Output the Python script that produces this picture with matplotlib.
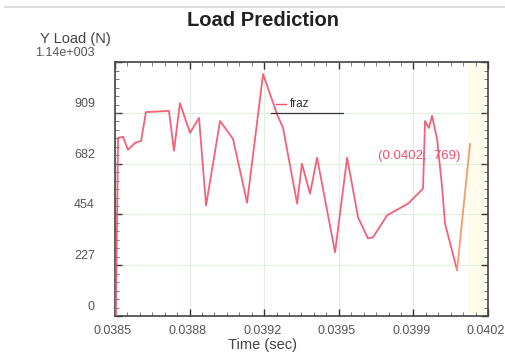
import numpy as np
import matplotlib
matplotlib.use('Agg')
from matplotlib import pyplot as plt
from matplotlib import transforms
from matplotlib.ticker import AutoMinorLocator

# datos
tiempo = [0.038504, 0.038514, 0.038537, 0.038559, 0.038591, 0.038619, 0.038641,
          0.038746, 0.038769, 0.038796, 0.038842, 0.038883, 0.038915, 0.038979,
          0.039038, 0.039102, 0.039175, 0.039238, 0.039266, 0.039330, 0.039352,
          0.039389, 0.039421, 0.039503, 0.039558, 0.039608, 0.039653, 0.039676,
          0.039740, 0.039836, 0.039904, 0.039913, 0.039931, 0.039945, 0.039968,
          0.039991, 0.040004, 0.040059]
carga = [0, 797, 801, 743, 774, 783, 912,
         917, 739, 952, 819, 886, 494, 872,
         792, 507, 1082, 904, 841, 503, 681,
         547, 708, 285, 708, 441, 347, 352,
         450, 503, 570, 872, 841, 895, 792,
         574, 414, 205]
punto_final = (0.040118, 769)

xticks = [0.0385, 0.03884, 0.03918, 0.03952, 0.03986, 0.0402]
xlabels = ['0.0385', '0.0388', '0.0392', '0.0395', '0.0399', '0.0402']
yticks = [0, 227, 454, 682, 909, 1136]
ylabels = ['0', '227', '454', '682', '909', '1.14e+003']

plt.rcParams['font.family'] = ['Liberation Sans', 'DejaVu Sans']

fig = plt.figure(figsize=(5.05, 3.53), dpi=100)
ax = fig.add_axes([0.2277, 0.1048, 0.7386, 0.7196])

ax.set_xlim(0.0385, 0.0402)
ax.set_ylim(0, 1136)

# franja amarilla al final
ax.axvspan(0.04011, 0.0402, color='#fffcec', zorder=0)

rojo = '#f5506a'
ax.plot(tiempo, carga, color=rojo, lw=1.3, alpha=0.9, zorder=3)
ax.plot([tiempo[-1], punto_final[0]], [carga[-1], punto_final[1]],
        color='#f79a6a', lw=1.3, zorder=3)

ax.set_xticks(xticks)
ax.set_yticks(yticks)
ax.set_xticklabels([])
ax.set_yticklabels([])
ax.xaxis.set_minor_locator(AutoMinorLocator(6))
ax.yaxis.set_minor_locator(AutoMinorLocator(6))
ax.tick_params(which='major', direction='in', length=5, width=1, color='#333333',
               top=True, right=True)
ax.tick_params(which='minor', direction='in', length=3, width=0.6, color='#666666',
               top=True, right=True)
for s in ax.spines.values():
    s.set_color('#444444')
    s.set_linewidth(1.2)

ax.grid(True, which='major', color='#dcf2dc', lw=0.8)

# etiquetas de los ejes (desplazadas como en el original)
ytrans = transforms.offset_copy(ax.get_yaxis_transform(), fig=fig, x=-20, y=9, units='dots')
for v, l in zip(yticks, ylabels):
    ax.text(0, v, l, transform=ytrans, ha='right', va='center', fontsize=9, color='#555555')
xtrans = transforms.offset_copy(ax.get_xaxis_transform(), fig=fig, x=-2, y=-15, units='dots')
for v, l in zip(xticks, xlabels):
    ax.text(v, 0, l, transform=xtrans, ha='center', va='center', fontsize=9, color='#555555')

fig.text(263 / 505, 1 - 345 / 353, 'Time (sec)', ha='center', va='center',
         fontsize=10.5, color='#444444')
fig.text(75 / 505, 1 - 39 / 353, 'Y Load (N)', ha='center', va='center',
         fontsize=10.5, color='#444444')
fig.text(263 / 505, 1 - 20 / 353, 'Load Prediction', ha='center', va='center',
         fontsize=14.5, fontweight='bold', color='#222222')

# leyenda
ax.plot([0.039210, 0.039540], [909, 909], color='#333333', lw=0.9, zorder=4)
ax.plot([0.039235, 0.039280], [950, 950], color=rojo, lw=1.0, zorder=4)
ax.text(0.039295, 950, 'fraz', fontsize=8.5, va='center', ha='left', color='#333333')

ax.text(0.039886, 717, '(0.0402,  769)', fontsize=9.5, color=rojo, ha='center', va='center')

fig.add_artist(plt.Line2D([5 / 505, 1], [1 - 7 / 353, 1 - 7 / 353],
                          color='#dddddd', lw=1.5))

fig.savefig('out.png', dpi=100)
